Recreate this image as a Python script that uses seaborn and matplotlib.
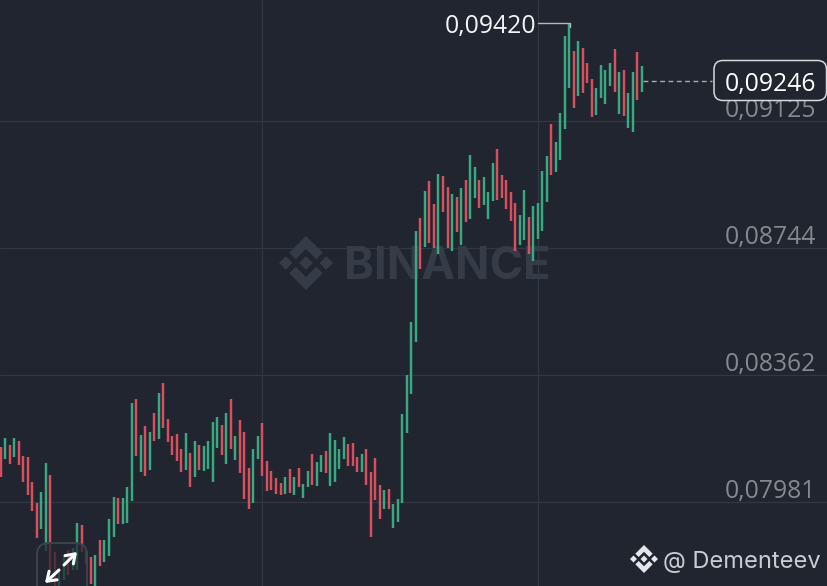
"""Binance price chart with thin range bars"""
import matplotlib
matplotlib.use('Agg')
import matplotlib.pyplot as plt
import matplotlib.transforms as mtrans
from matplotlib.patches import FancyBboxPatch, Polygon
import pandas as pd
import seaborn as sns

# prices are kept in units of 0.00001
highs = [
    8146, 8173, 8152, 8173, 8164, 8119, 8116, 8041, 7978, 8011,
    8098, 8062, 7831, 7777, 7822, 7837, 7843, 7918, 7912, 7837,
    7816, 7822, 7867, 7867, 7930, 7996, 7993, 7993, 8026, 8278,
    8290, 8182, 8209, 8191, 8248, 8308, 8338, 8230, 8179, 8185,
    8140, 8188, 8128, 8164, 8152, 8149, 8164, 8221, 8236, 8212,
    8248, 8290, 8179, 8227, 8191, 8083, 8140, 8179, 8218, 8104,
    8074, 8053, 8038, 8056, 8080, 8056, 8083, 8035, 8074, 8125,
    8101, 8122, 8134, 8188, 8167, 8140, 8176, 8155, 8158, 8116,
    8125, 8140, 8071, 8113, 8032, 8017, 8020, 7975, 7990, 8245,
    8362, 8521, 8794, 8833, 8914, 8944, 8875, 8965, 8959, 8926,
    8905, 8896, 8923, 8947, 9022, 8986, 8947, 8956, 8911, 8998,
    9040, 8962, 8947, 8911, 8878, 8842, 8917, 8836, 8869, 8878,
    8974, 9019, 9115, 9061, 9148, 9379, 9418, 9334, 9364, 9343,
    9298, 9250, 9223, 9292, 9277, 9298, 9340, 9271, 9277, 9208,
    9271, 9331, 9289,
]
lows = [
    8056, 8110, 8095, 8116, 8092, 8041, 8002, 7954, 7873, 7900,
    7834, 7777, 7717, 7702, 7747, 7762, 7777, 7777, 7831, 7795,
    7735, 7717, 7789, 7801, 7819, 7876, 7915, 7915, 7918, 7984,
    8119, 8071, 8059, 8077, 8164, 8170, 8203, 8161, 8122, 8104,
    8071, 8077, 8026, 8056, 8077, 8074, 8080, 8041, 8143, 8122,
    8095, 8140, 8107, 8068, 7990, 7960, 7978, 8110, 8059, 8014,
    8017, 8005, 8002, 8005, 8008, 8002, 8026, 7993, 8026, 8032,
    8029, 8071, 8068, 8029, 8041, 8080, 8110, 8089, 8089, 8071,
    8071, 8032, 7876, 7987, 7930, 7960, 7960, 7903, 7921, 7978,
    8188, 8305, 8461, 8680, 8746, 8758, 8743, 8725, 8851, 8743,
    8734, 8791, 8752, 8821, 8830, 8893, 8863, 8872, 8830, 8884,
    8887, 8893, 8860, 8824, 8734, 8752, 8767, 8725, 8704, 8770,
    8794, 8881, 8962, 8971, 9007, 9100, 9223, 9163, 9199, 9208,
    9238, 9136, 9142, 9193, 9175, 9229, 9211, 9145, 9139, 9103,
    9091, 9187, 9211,
]
# G = up, R = down
sides = list(
    'RGRGRRRRRG' 'GRRGGRGGRR' 'RGRGGGRGGG' 'RGRGRGRRRR'
    'RGRGRGGGGR' 'GRGRRRGGRR' 'RRRGRGRGGR' 'GGRGGGGRRR'
    'GRRRRGRGGG' 'GGGRGRRGRR' 'GRGRGGRGGG' 'RRRRRGGRGG'
    'GGRGGGGRGR' 'RRGGGGRGRG' 'GRG'
)
price_ticks = [0.07981, 0.08362, 0.08744, 0.09125]
time_ticks = [58, 119]
peak_price = 0.09420
last_price = 0.09246

BG = '#20252f'
GREEN = '#3aa981'
RED = '#d8505f'
GRID = '#323843'
FONT = 'Inter'
NUM_FONT = 'Open Sans'  # equal width digits, like the original labels
NUM_SIZE = 17.8

rows = []
for i, (hi, lo, side) in enumerate(zip(highs, lows, sides)):
    rows.append({'bar': i, 'price': hi / 1e5, 'side': side})
    rows.append({'bar': i, 'price': lo / 1e5, 'side': side})
df = pd.DataFrame(rows)

sns.set_theme(style='dark', rc={'axes.facecolor': BG, 'figure.facecolor': BG})
plt.rcParams['font.family'] = [FONT, 'DejaVu Sans']

fig = plt.figure(figsize=(8.28, 5.86), dpi=100)
ax = fig.add_axes([0, 0, 1, 1])
px = mtrans.Affine2D().scale(1, -1).translate(0, 586)  # top-left pixel coords

sns.lineplot(data=df, x='bar', y='price', hue='side', units='bar',
             estimator=None, sort=False, palette={'G': GREEN, 'R': RED},
             linewidth=1.75, solid_capstyle='butt', legend=False, ax=ax)

ax.set_xlim(-0.148, 183.3)
ax.set_ylim(0.07729, 0.09487)
ax.set_xlabel('')
ax.set_ylabel('')
for s in ax.spines.values():
    s.set_visible(False)

ax.set_xticks(time_ticks)
ax.set_yticks(price_ticks)
ax.set_yticklabels([f'{p:.5f}'.replace('.', ',') for p in price_ticks])
ax.grid(True, color=GRID, linewidth=0.9)
ax.set_axisbelow(True)
ax.tick_params(axis='x', length=0, labelbottom=False)
ax.tick_params(axis='y', length=0, labelleft=False, labelright=True, pad=-8.2,
               labelsize=NUM_SIZE, labelcolor='#85888e')
shift_down = mtrans.ScaledTranslation(0, -2 / 100, fig.dpi_scale_trans)
for t in ax.get_yticklabels():
    t.set_ha('right')
    t.set_va('bottom')
    t.set_family(NUM_FONT)
    t.set_transform(t.get_transform() + shift_down)


def logo(cx, cy, r, color, zorder):
    shapes = [
        [(0, -1), (.62, -.38), (.38, -.14), (0, -.52), (-.38, -.14), (-.62, -.38)],
        [(0, 1), (.62, .38), (.38, .14), (0, .52), (-.38, .14), (-.62, .38)],
        [(0, -.25), (.25, 0), (0, .25), (-.25, 0)],
        [(-.75, -.25), (-.5, 0), (-.75, .25), (-1, 0)],
        [(.75, -.25), (1, 0), (.75, .25), (.5, 0)],
    ]
    for shape in shapes:
        pts = [(cx + x * r, cy + y * r) for x, y in shape]
        ax.add_patch(Polygon(pts, closed=True, facecolor=color, edgecolor='none',
                             transform=px, zorder=zorder, clip_on=False))


# watermark
logo(306, 263, 27, '#363c47', 1)
ax.text(344, 279, 'BINANCE', transform=px, color='#363c47', fontsize=32.6,
        fontweight='bold', ha='left', va='baseline', zorder=1)

# expand button
ax.add_patch(FancyBboxPatch((37, 543), 50, 60, boxstyle='round,pad=0,rounding_size=12',
                            transform=px, facecolor=BG, alpha=0.72, edgecolor='none',
                            zorder=5, clip_on=False))
ax.add_patch(FancyBboxPatch((37, 543), 50, 60, boxstyle='round,pad=0,rounding_size=12',
                            transform=px, facecolor='none', edgecolor='#3d434d',
                            linewidth=1.4, zorder=5, clip_on=False))
for tip, tail in [((45, 583), (59, 570)), ((77, 552), (64, 565))]:
    ax.annotate('', xy=tip, xytext=tail, xycoords=px, textcoords=px, zorder=6,
                arrowprops=dict(arrowstyle='->,head_length=0.5,head_width=0.35',
                                color='white', lw=2.2, shrinkA=0, shrinkB=0))

# highest price marker
ax.plot([538, 570, 570], [23, 23, 27], color='#b4b7bb', lw=1, transform=px, zorder=3)
ax.text(536, 23, f'{peak_price:.5f}'.replace('.', ','), transform=px, color='#f2f3f4',
        fontsize=NUM_SIZE, family=NUM_FONT, ha='right', va='center_baseline', zorder=6)

# last price
ax.plot([643, 712], [81, 81], color='#a9acb1', lw=1, ls=(0, (3.5, 2.5)), transform=px,
        zorder=3)
ax.add_patch(FancyBboxPatch((714, 60.5), 112.5, 40, boxstyle='round,pad=0,rounding_size=9',
                            transform=px, facecolor=BG, edgecolor='#d5d7da', linewidth=1.1,
                            zorder=8, clip_on=False))
ax.text(770.5, 81, f'{last_price:.5f}'.replace('.', ','), transform=px, color='white',
        fontsize=NUM_SIZE, family=NUM_FONT, ha='center', va='center_baseline', zorder=9)

# footer handle
logo(644, 559, 14, '#e4e6e9', 6)
ax.text(663, 568, '@ Dementeev', transform=px, color='#c9ccd1', fontsize=17,
        ha='left', va='baseline', zorder=6)

fig.savefig('out.png', dpi=100, facecolor=BG)
